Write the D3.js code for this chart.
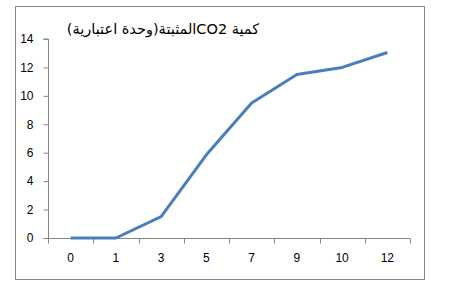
<!DOCTYPE html>
<html>
<head>
<meta charset="utf-8">
<script src="https://cdn.jsdelivr.net/npm/d3@7"></script>
<style>
  body { margin: 0; background: #fff; }
  svg text { font-family: "Liberation Sans", Arial, sans-serif; fill: #000; }
</style>
</head>
<body>
<div id="chart"></div>
<script>
const categories = ['0', '1', '3', '5', '7', '9', '10', '12']
const co2Values = [0, 0, 1.5, 5.85, 9.5, 11.5, 12, 13.05]
const yTicks = [0, 2, 4, 6, 8, 10, 12, 14]
const chartTitle = 'كمية CO2المثبتة(وحدة اعتبارية)'

const width = 455, height = 290
const margin = {top: 39, right: 45, bottom: 52, left: 48}
const innerWidth = width - margin.left - margin.right
const innerHeight = height - margin.top - margin.bottom

const svg = d3.select('#chart').append('svg')
    .attr('width', width)
    .attr('height', height)

// outer frame
svg.append('rect')
    .attr('x', 15.5)
    .attr('y', 6.5)
    .attr('width', 409)
    .attr('height', 273)
    .attr('fill', 'none')
    .attr('stroke', '#868686')
    .attr('stroke-width', 1)

svg.append('text')
    .attr('x', 163)
    .attr('y', 34)
    .attr('text-anchor', 'middle')
    .attr('direction', 'rtl')
    .style('font-family', '"DejaVu Sans", sans-serif')
    .style('font-size', '14.5px')
    .text(chartTitle)

const g = svg.append('g')
    .attr('transform', `translate(${margin.left},${margin.top})`)

const x = d3.scaleBand()
    .domain(categories)
    .range([0, innerWidth])

const y = d3.scaleLinear()
    .domain([0, 14])
    .range([innerHeight, 0])

// y axis
const yAxisG = g.append('g')
    .attr('transform', 'translate(0.5,0)')
    .call(d3.axisLeft(y).tickValues(yTicks).tickSize(5).tickPadding(10))
yAxisG.selectAll('line, path').attr('stroke', '#868686')
yAxisG.selectAll('text').style('font-size', '12px')
yAxisG.select('.domain').attr('d', `M0,${innerHeight}V0H-5`)

// x axis, ticks sit on the band boundaries
const xAxisG = g.append('g')
    .attr('transform', `translate(0,${innerHeight + 0.5})`)
xAxisG.append('line')
    .attr('x1', 0).attr('x2', innerWidth)
    .attr('stroke', '#868686')
const bounds = categories.map(c => x(c)).concat([innerWidth])
xAxisG.selectAll('line.tick').data(bounds).join('line')
    .attr('class', 'tick')
    .attr('x1', d => Math.round(d) + 0.5)
    .attr('x2', d => Math.round(d) + 0.5)
    .attr('y1', 0).attr('y2', 5)
    .attr('stroke', '#868686')
xAxisG.selectAll('text').data(categories).join('text')
    .attr('x', d => x(d) + x.bandwidth() / 2)
    .attr('y', 23)
    .attr('text-anchor', 'middle')
    .style('font-size', '12px')
    .text(d => d)

// line
const line = d3.line()
    .x((d, i) => x(categories[i]) + x.bandwidth() / 2)
    .y(d => y(d))

g.append('path')
    .datum(co2Values)
    .attr('d', line)
    .attr('fill', 'none')
    .attr('stroke', '#4a7ebb')
    .attr('stroke-width', 3)
    .attr('stroke-linejoin', 'round')
</script>
</body>
</html>
